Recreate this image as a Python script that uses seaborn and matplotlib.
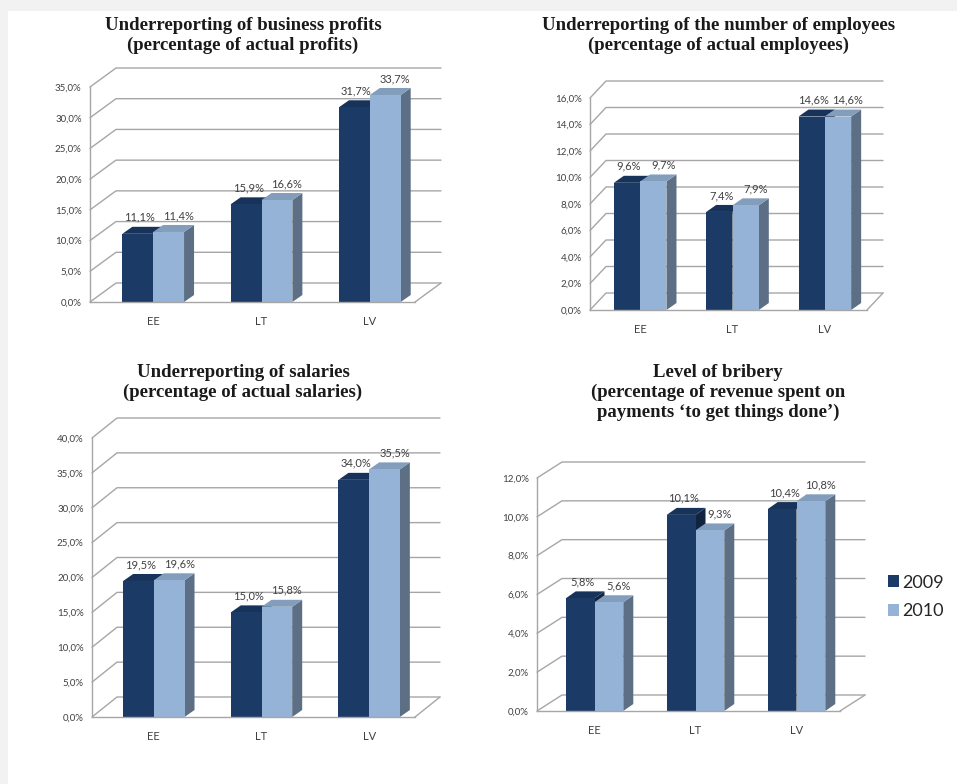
import numpy as np
import pandas as pd
import matplotlib
matplotlib.use("Agg")
import matplotlib.pyplot as plt
import seaborn as sns
from matplotlib.patches import Polygon, Rectangle, Patch
from matplotlib.lines import Line2D
from matplotlib.transforms import IdentityTransform
from matplotlib.colors import to_rgb

# Dados (leitura do gráfico)
countries = ['EE', 'LT', 'LV']
years = ['2009', '2010']

profits_2009 = [11.1, 15.9, 31.7]
profits_2010 = [11.4, 16.6, 33.7]
employees_2009 = [9.6, 7.4, 14.6]
employees_2010 = [9.7, 7.9, 14.6]
salaries_2009 = [19.5, 15.0, 34.0]
salaries_2010 = [19.6, 15.8, 35.5]
bribery_2009 = [5.8, 10.1, 10.4]
bribery_2010 = [5.6, 9.3, 10.8]

titles = [
    "Underreporting of business profits\n(percentage of actual profits)",
    "Underreporting of the number of employees\n(percentage of actual employees)",
    "Underreporting of salaries\n(percentage of actual salaries)",
    "Level of bribery\n(percentage of revenue spent on\npayments \u2018to get things done\u2019)",
]

dark = '#1b3a66'
light = '#95b3d7'
grid_col = '#a6a6a6'
text_col = '#404040'

sns.set_style('white')
plt.rcParams['font.family'] = ['Lato', 'DejaVu Sans']

W, H = 957, 784
fig = plt.figure(figsize=(W / 100, H / 100), dpi=100)
fig.patch.set_facecolor('#f2f2f2')
fig.add_artist(Rectangle((8 / W, 0), 1, 1 - 11 / H, transform=fig.transFigure,
                         facecolor='white', edgecolor='none', zorder=-5))

# layout em pixels: esquerda, direita, base (0%), topo (máx. tick), ymax, passo, parede (dx, dy), desvio barras
paineis = [
    dict(v1=profits_2009, v2=profits_2010, l=90, r=415, b=302, t=87, ymax=35, step=5, dx=26, dy=19, sh=9,
         tx=243, ty=17),
    dict(v1=employees_2009, v2=employees_2010, l=590, r=867, b=310, t=98, ymax=16, step=2, dx=16, dy=17, sh=4,
         tx=719, ty=17),
    dict(v1=salaries_2009, v2=salaries_2010, l=92, r=415, b=717, t=438, ymax=40, step=5, dx=25, dy=20, sh=8,
         tx=243, ty=364),
    dict(v1=bribery_2009, v2=bribery_2010, l=537, r=840, b=711, t=478, ymax=12, step=2, dx=25, dy=16, sh=7,
         tx=718, ty=364),
]

depth_x, depth_y = 10, 7
label_nudge = [-3, 5]  # deslocamento horizontal (px) dos rótulos por ano


def fmt(v):
    return f"{v:.1f}%".replace('.', ',')


def shade(c, f):
    r, g, b = to_rgb(c)
    return (r * f, g * f, b * f)


for i, p in enumerate(paineis):
    ax = fig.add_axes([p['l'] / W, 1 - p['b'] / H, (p['r'] - p['l']) / W, (p['b'] - p['t']) / H])
    ax.set_facecolor('none')
    df = pd.DataFrame({
        'country': countries * 2,
        'year': [years[0]] * 3 + [years[1]] * 3,
        'value': list(p['v1']) + list(p['v2']),
    })
    sns.barplot(data=df, x='country', y='value', hue='year', palette=[dark, light],
                width=0.57, gap=0, saturation=1, edgecolor='none', legend=False, ax=ax, zorder=2)
    ppc = (p['r'] - p['l']) / 3
    s = p['sh'] / ppc
    ax.set_xlim(-0.5 - s, 2.5 - s)
    ax.set_ylim(0, p['ymax'])
    ticks = np.arange(0, p['ymax'] + 0.01, p['step'])
    ax.set_yticks(ticks)
    ax.set_yticklabels([fmt(t) for t in ticks], fontsize=7, color=text_col)
    ax.set_xticks(range(3))
    ax.set_xticklabels(countries, fontsize=8, color=text_col)
    ax.set_xticks([-0.5 - s + k for k in range(4)], minor=True)
    ax.tick_params(axis='x', which='major', length=0, pad=10)
    ax.tick_params(axis='x', which='minor', length=4, color=grid_col, direction='out')
    ax.tick_params(axis='y', length=4, color=grid_col, direction='out', pad=2)
    ax.set_xlabel('')
    ax.set_ylabel('')
    for side in ['top', 'right']:
        ax.spines[side].set_visible(False)
    for side in ['left', 'bottom']:
        ax.spines[side].set_color(grid_col)
        ax.spines[side].set_linewidth(1)

    fig.canvas.draw()
    trans = ax.transData
    x0d = ax.transAxes.transform((0, 0))[0]
    x1d = ax.transAxes.transform((1, 0))[0]
    dx, dy = p['dx'], p['dy']
    ident = IdentityTransform()

    # parede do fundo e linhas de grade
    for t in ticks:
        yd = trans.transform((0, t))[1]
        ax.add_line(Line2D([x0d, x0d + dx, x1d + dx], [yd, yd + dy, yd + dy],
                           transform=ident, color=grid_col, lw=1, zorder=0.5, clip_on=False))
    yb = trans.transform((0, 0))[1]
    ax.add_line(Line2D([x1d, x1d + dx], [yb, yb + dy], transform=ident, color=grid_col,
                       lw=1, zorder=0.5, clip_on=False))

    # efeito 3D das barras
    for k, bar in enumerate(ax.patches):
        bx, bw, bh = bar.get_x(), bar.get_width(), bar.get_height()
        fc = bar.get_facecolor()
        (xa, ya) = trans.transform((bx, 0))
        (xb, yt) = trans.transform((bx + bw, bh))
        side = Polygon([(xb, ya), (xb + depth_x, ya + depth_y), (xb + depth_x, yt + depth_y), (xb, yt)],
                       closed=True, transform=ident, facecolor=shade(fc, 0.62), edgecolor='none',
                       zorder=1.9, clip_on=False)
        top = Polygon([(xa, yt), (xa + depth_x, yt + depth_y), (xb + depth_x, yt + depth_y), (xb, yt)],
                      closed=True, transform=ident, facecolor=shade(fc, 0.88), edgecolor='none',
                      zorder=1.9, clip_on=False)
        ax.add_patch(side)
        ax.add_patch(top)
        nudge = label_nudge[k // len(countries)]
        ax.annotate(fmt(bh), (bx + bw / 2, bh),
                    xytext=((depth_x / 2 + nudge) * 0.72, (depth_y + 4) * 0.72),
                    textcoords='offset points', ha='center', va='bottom', fontsize=8,
                    color=text_col, zorder=5, annotation_clip=False)

    fig.text(p['tx'] / W, 1 - p['ty'] / H, titles[i], ha='center', va='top', fontsize=13.5,
             fontweight='bold', family='Liberation Serif', linespacing=1.2, color='#1a1a1a')

handles = [Patch(facecolor=dark, edgecolor='none'), Patch(facecolor=light, edgecolor='none')]
fig.legend(handles, years, loc='center left', bbox_to_anchor=(884 / W, 1 - 597 / H),
           frameon=False, fontsize=13, handlelength=0.65, handleheight=0.65,
           handletextpad=0.15, labelspacing=0.7, borderpad=0.2, borderaxespad=0,
           labelcolor='#262626')

fig.savefig('out.png', dpi=100)
